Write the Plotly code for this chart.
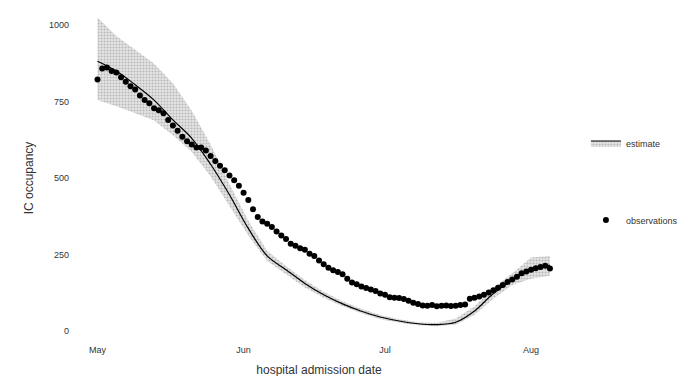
import pandas as pd
import plotly.graph_objects as go

# observed IC occupancy, daily from 1 May
obs_values = [822, 858, 862, 850, 845, 830, 815, 800, 790, 770,
              755, 745, 728, 722, 712, 690, 672, 655, 635, 620,
              610, 600, 600, 590, 572, 556, 540, 525, 508, 493,
              475, 452, 428, 398, 372, 358, 350, 340, 325, 312,
              300, 285, 278, 270, 265, 252, 245, 230, 218, 206,
              198, 192, 185, 170, 158, 152, 145, 140, 135, 130,
              122, 118, 110, 108, 107, 104, 98, 92, 88, 83,
              82, 84, 80, 82, 83, 81, 82, 84, 86, 105,
              108, 112, 118, 125, 133, 141, 150, 160, 168, 177,
              188, 194, 200, 205, 209, 213, 204]
obs_dates = pd.date_range("2020-05-01", periods=len(obs_values), freq="D")

# model estimate, every 4 days from 1 May
est_dates = pd.date_range("2020-05-01", periods=25, freq="4D")
est_mid = [882, 850, 805, 755, 690, 630, 545, 445, 335, 245,
           200, 155, 118, 88, 64, 45, 32, 23, 20, 28,
           65, 122, 165, 198, 215]
est_upper = [1025, 965, 920, 875, 810, 720, 610, 480, 360, 262,
             212, 166, 128, 97, 72, 52, 38, 28, 26, 40,
             80, 140, 188, 240, 245]
est_lower = [755, 735, 712, 688, 640, 585, 505, 410, 312, 228,
             186, 142, 108, 80, 57, 38, 26, 18, 15, 20,
             52, 105, 150, 170, 180]

y_ticks = [0, 250, 500, 750, 1000]
y_tick_labels = ["0", "250", "500", "750", "1000"]

FONT = "Liberation Sans, Arial, sans-serif"
pattern = dict(shape=".", bgcolor="#e6e6e6", fgcolor="#8a8a8a", size=3, solidity=0.4)

fig = go.Figure()
fig.add_trace(go.Scatter(x=est_dates, y=est_upper, mode="lines", line=dict(width=0),
                         showlegend=False, hoverinfo="skip"))
fig.add_trace(go.Scatter(x=est_dates, y=est_lower, mode="lines", line=dict(width=0),
                         fill="tonexty", fillcolor="rgba(200,200,200,0.7)", fillpattern=pattern,
                         showlegend=False, hoverinfo="skip"))
fig.add_trace(go.Scatter(x=est_dates, y=est_mid, mode="lines", line=dict(color="black", width=1.2, shape="spline"),
                         showlegend=False))
fig.add_trace(go.Scatter(x=obs_dates, y=obs_values, mode="markers",
                         marker=dict(color="black", size=6), showlegend=False))
# legend entries
fig.add_trace(go.Scatter(x=[None], y=[None], mode="lines", name="estimate", legendgroup="a",
                         fill="toself", fillcolor="rgba(200,200,200,0.7)", fillpattern=pattern,
                         line=dict(color="black", width=1.2)))
fig.add_trace(go.Scatter(x=[None], y=[None], mode="markers", name="observations", legendgroup="b",
                         marker=dict(color="black", size=6)))

fig.update_layout(
    width=695, height=376,
    margin=dict(l=62, r=135, t=5, b=41),
    paper_bgcolor="white", plot_bgcolor="white",
    font=dict(family=FONT, size=9, color="#333"),
    showlegend=True,
    legend=dict(x=1.036, y=0.65, xanchor="left", yanchor="top", tracegroupgap=58,
                font=dict(size=9, color="#333"), bgcolor="rgba(0,0,0,0)"),
    xaxis=dict(range=["2020-04-25 04:00", "2020-08-08 20:00"], tickformat="%b", dtick="M1",
               tick0="2020-05-01", showgrid=False, zeroline=False, showline=False, ticks="",
               tickfont=dict(size=9, color="#333"),
               title=dict(text="hospital admission date", font=dict(size=12, color="#333"), standoff=11)),
    yaxis=dict(range=[-40, 1040], tickvals=y_ticks, ticktext=y_tick_labels, showgrid=False,
               zeroline=False, showline=False, ticks="", tickfont=dict(size=9, color="#333"),
               title=dict(text="IC occupancy", font=dict(size=12, color="#333"), standoff=12)),
)

fig.write_html("out.html")
